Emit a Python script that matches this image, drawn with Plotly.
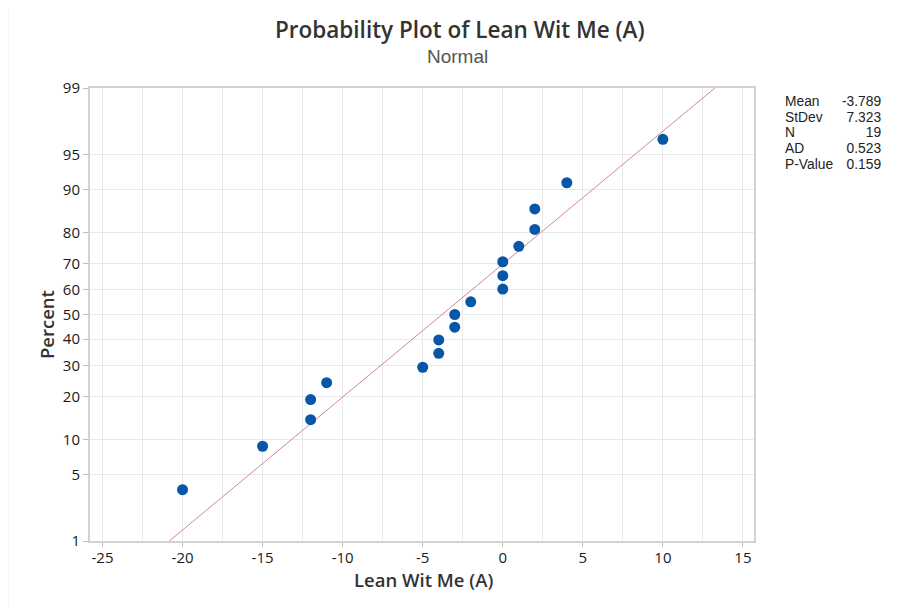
import plotly.graph_objects as go
from statistics import NormalDist

# ---- data ----
x_values = [-20, -15, -12, -12, -11, -5, -4, -4, -3, -3, -2, 0, 0, 0, 1, 2, 2, 4, 10]
percent_values = [3.6, 8.8, 14.0, 19.1, 24.2, 29.4, 34.5, 39.7, 44.8, 50.0,
                  55.2, 60.3, 65.5, 70.6, 75.8, 80.9, 86.1, 91.2, 96.4]
y_tick_percents = [1, 5, 10, 20, 30, 40, 50, 60, 70, 80, 90, 95, 99]
x_tick_values = [-25, -20, -15, -10, -5, 0, 5, 10, 15]
stat_labels = ["Mean", "StDev", "N", "AD", "P-Value"]
stat_values = ["-3.789", "7.323", "19", "0.523", "0.159"]
fit_mean = -3.789
fit_sd = 7.323
line_percent_ends = [1, 99]
title_text = "Probability Plot of Lean Wit Me (A)"
subtitle_text = "Normal"

nd = NormalDist()
def z(p):
    return nd.inv_cdf(p / 100.0)

# page offset (body margin) compensation
OFF = 8
W, H = 902, 608
pl, pt, pr, pb = 90, 88, 754, 541          # plot area in page pixels
L = pl - OFF
T = pt - OFF
pw, ph = pr - pl, pb - pt
R = W - L - pw
B = H - T - ph

def px(xpage):
    return (xpage - pl) / pw
def py(ypage):
    return (pb - ypage) / ph

font = "Open Sans, Noto Sans, sans-serif"
stat_font = "Liberation Sans, Arial, sans-serif"

fig = go.Figure()

line_x = [fit_mean + fit_sd * z(p) for p in line_percent_ends]
line_y = [z(p) for p in line_percent_ends]
fig.add_trace(go.Scatter(x=line_x, y=line_y, mode="lines",
                         line=dict(color="#cf8a8c", width=1), hoverinfo="skip",
                         showlegend=False))

fig.add_trace(go.Scatter(x=x_values, y=[z(p) for p in percent_values], mode="markers",
                         marker=dict(color="#0856A8", size=11),
                         showlegend=False))

fig.update_layout(
    width=W, height=H,
    margin=dict(l=L, r=R, t=T, b=B),
    paper_bgcolor="white", plot_bgcolor="white",
    font=dict(family=font, color="#222"),
    xaxis=dict(range=[-25.78, 15.69], tickvals=x_tick_values,
               ticktext=[str(v) for v in x_tick_values],
               showgrid=True, gridcolor="#e9e9e9", gridwidth=1,
               minor=dict(dtick=2.5, tick0=0, showgrid=True, gridcolor="#e9e9e9", gridwidth=1),
               showline=True, linecolor="#d2d2d2", linewidth=2, mirror=True,
               ticks="outside", ticklen=4, tickcolor="#bdbdbd", ticklabelstandoff=-2,
               tickfont=dict(size=15, color="#1a1a1a"), zeroline=False),
    yaxis=dict(range=[z(1), z(99)], tickvals=[z(p) for p in y_tick_percents],
               ticktext=[str(p) for p in y_tick_percents],
               showgrid=True, gridcolor="#e9e9e9", gridwidth=1,
               showline=True, linecolor="#d2d2d2", linewidth=2, mirror=True,
               ticks="outside", ticklen=5, tickcolor="#bdbdbd",
               tickfont=dict(size=15, color="#1a1a1a"), zeroline=False),
    showlegend=False,
)

ann = []
ann.append(dict(text=title_text, x=px(460), y=py(29.5),
                xref="paper", yref="paper", showarrow=False, xanchor="center", yanchor="middle",
                font=dict(size=22.5, color="#333", family=font, weight=600)))
ann.append(dict(text=subtitle_text, x=px(457), y=py(56),
                xref="paper", yref="paper", showarrow=False, xanchor="center", yanchor="middle",
                font=dict(size=19, color="#555", family=stat_font)))
ann.append(dict(text="Lean Wit Me (A)", x=px(423), y=py(579.5),
                xref="paper", yref="paper", showarrow=False, xanchor="center", yanchor="middle",
                font=dict(size=18.5, color="#333", family=font, weight=600)))
ann.append(dict(text="Percent", x=px(46), y=py(325), textangle=-90,
                xref="paper", yref="paper", showarrow=False, xanchor="center", yanchor="middle",
                font=dict(size=18.5, color="#333", family=font, weight=600)))
# statistics box: one block per column, line spacing 15.7 px
ann.append(dict(text="<br>".join("<span style='font-size:13.8px'>" + s + "</span>" for s in stat_labels),
                x=px(783), y=py(132.8), align="left",
                xref="paper", yref="paper", showarrow=False, xanchor="left", yanchor="middle",
                font=dict(size=12.07, color="#222", family=stat_font)))
ann.append(dict(text="<br>".join("<span style='font-size:13.8px'>" + s + "</span>" for s in stat_values),
                x=px(883), y=py(132.8), align="right",
                xref="paper", yref="paper", showarrow=False, xanchor="right", yanchor="middle",
                font=dict(size=12.07, color="#222", family=stat_font)))
fig.update_layout(annotations=ann)

fig.add_shape(type="rect", xref="paper", yref="paper",
              x0=px(7.5), x1=px(1100), y0=py(800), y1=py(6.5),
              line=dict(color="#e3e3e3", width=1.5), layer="below")

fig.write_html("out.html")
